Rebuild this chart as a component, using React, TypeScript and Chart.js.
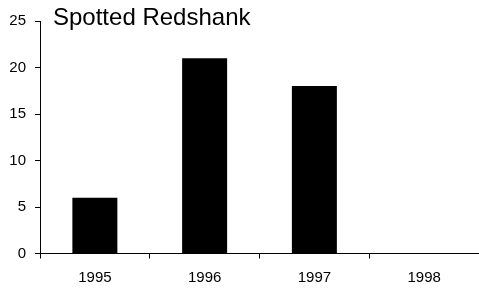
import React, { useEffect, useRef } from "react";
import { Chart, registerables } from "chart.js";

Chart.register(...registerables);

const categories = ["1995", "1996", "1997", "1998"];
const counts = [6, 21, 18, 0];
const yTicks = [0, 5, 10, 15, 20, 25];
const titleText = "Spotted Redshank";

const FONT = "'Liberation Sans', Arial, sans-serif";

const titlePlugin = {
  id: "insideTitle",
  afterDraw(chart: any) {
    const { ctx, chartArea } = chart;
    ctx.save();
    ctx.font = `24px ${FONT}`;
    ctx.fillStyle = "#000";
    ctx.textBaseline = "alphabetic";
    ctx.textAlign = "left";
    ctx.fillText(titleText, chartArea.left + 13, 25);
    ctx.restore();
  },
};

export default function App() {
  const ref = useRef<HTMLCanvasElement | null>(null);
  useEffect(() => {
    document.body.style.margin = "0";
    const chart = new Chart(ref.current as HTMLCanvasElement, {
      type: "bar",
      data: {
        labels: categories,
        datasets: [
          {
            data: counts,
            backgroundColor: "#000",
            borderWidth: 0,
            barPercentage: 0.82,
            categoryPercentage: 0.5,
          },
        ],
      },
      options: {
        animation: false,
        responsive: false,
        maintainAspectRatio: false,
        layout: { padding: { top: 21, right: 0, left: 0, bottom: 0 } },
        plugins: { legend: { display: false }, tooltip: { enabled: false }, title: { display: false } },
        scales: {
          x: {
            grid: {
              offset: true,
              drawOnChartArea: false,
              drawTicks: true,
              tickLength: 5,
              color: "#000",
            },
            border: { display: true, color: "#000", width: 1 },
            ticks: { color: "#000", font: { family: FONT, size: 15 }, padding: 10, maxRotation: 0 },
            afterFit(scale: any) {
              scale.height = 34.5;
            },
          },
          y: {
            min: 0,
            max: 25,
            afterBuildTicks(scale: any) {
              scale.ticks = yTicks.map((v) => ({ value: v }));
            },
            grid: { drawOnChartArea: false, drawTicks: true, tickLength: 5, color: "#000" },
            border: { display: true, color: "#000", width: 1 },
            ticks: { color: "#000", font: { family: FONT, size: 15 }, padding: 9 },
            afterFit(scale: any) {
              scale.width = 40;
            },
          },
        },
      },
      plugins: [titlePlugin],
    });
    return () => chart.destroy();
  }, []);
  return (
    <div style={{ width: 479, height: 288 }}>
      <canvas ref={ref} width={479} height={288} style={{ display: "block" }} />
    </div>
  );
}
